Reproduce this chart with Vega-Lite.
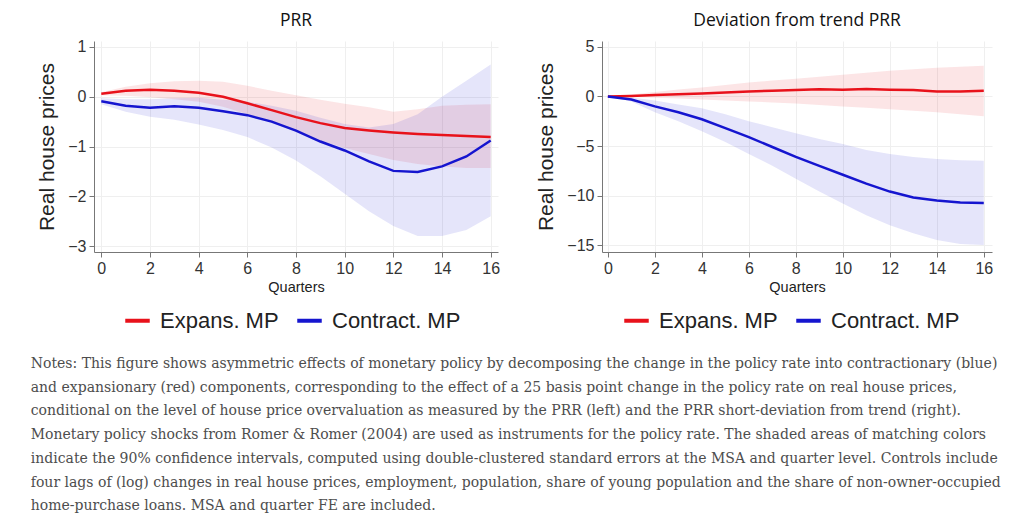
{
  "$schema": "https://vega.github.io/schema/vega-lite/v6.json",
  "description": "Asymmetric effects of monetary policy on real house prices, by PRR level and PRR deviation from trend",
  "background": "#ffffff",
  "padding": {"left": 30, "top": 12, "right": 4, "bottom": 4},
  "datasets": {
    "irf": [
      {"panel": "PRR", "q": 0, "series": "Expans. MP", "est": 0.06, "lo": 0.03, "hi": 0.09},
      {"panel": "PRR", "q": 1, "series": "Expans. MP", "est": 0.12, "lo": 0.02, "hi": 0.2},
      {"panel": "PRR", "q": 2, "series": "Expans. MP", "est": 0.14, "lo": -0.01, "hi": 0.27},
      {"panel": "PRR", "q": 3, "series": "Expans. MP", "est": 0.12, "lo": -0.05, "hi": 0.31},
      {"panel": "PRR", "q": 4, "series": "Expans. MP", "est": 0.08, "lo": -0.1, "hi": 0.32},
      {"panel": "PRR", "q": 5, "series": "Expans. MP", "est": 0.0, "lo": -0.2, "hi": 0.3},
      {"panel": "PRR", "q": 6, "series": "Expans. MP", "est": -0.13, "lo": -0.35, "hi": 0.22},
      {"panel": "PRR", "q": 7, "series": "Expans. MP", "est": -0.27, "lo": -0.52, "hi": 0.12},
      {"panel": "PRR", "q": 8, "series": "Expans. MP", "est": -0.41, "lo": -0.7, "hi": 0.03},
      {"panel": "PRR", "q": 9, "series": "Expans. MP", "est": -0.53, "lo": -0.88, "hi": -0.06},
      {"panel": "PRR", "q": 10, "series": "Expans. MP", "est": -0.63, "lo": -1.03, "hi": -0.14},
      {"panel": "PRR", "q": 11, "series": "Expans. MP", "est": -0.68, "lo": -1.15, "hi": -0.21},
      {"panel": "PRR", "q": 12, "series": "Expans. MP", "est": -0.72, "lo": -1.27, "hi": -0.3},
      {"panel": "PRR", "q": 13, "series": "Expans. MP", "est": -0.75, "lo": -1.35, "hi": -0.25},
      {"panel": "PRR", "q": 14, "series": "Expans. MP", "est": -0.77, "lo": -1.4, "hi": -0.18},
      {"panel": "PRR", "q": 15, "series": "Expans. MP", "est": -0.79, "lo": -1.43, "hi": -0.16},
      {"panel": "PRR", "q": 16, "series": "Expans. MP", "est": -0.81, "lo": -1.43, "hi": -0.15},
      {"panel": "PRR", "q": 0, "series": "Contract. MP", "est": -0.09, "lo": -0.15, "hi": -0.03},
      {"panel": "PRR", "q": 1, "series": "Contract. MP", "est": -0.18, "lo": -0.3, "hi": -0.05},
      {"panel": "PRR", "q": 2, "series": "Contract. MP", "est": -0.22, "lo": -0.4, "hi": -0.05},
      {"panel": "PRR", "q": 3, "series": "Contract. MP", "est": -0.19, "lo": -0.46, "hi": -0.03},
      {"panel": "PRR", "q": 4, "series": "Contract. MP", "est": -0.22, "lo": -0.56, "hi": -0.02},
      {"panel": "PRR", "q": 5, "series": "Contract. MP", "est": -0.29, "lo": -0.67, "hi": -0.06},
      {"panel": "PRR", "q": 6, "series": "Contract. MP", "est": -0.37, "lo": -0.81, "hi": -0.1},
      {"panel": "PRR", "q": 7, "series": "Contract. MP", "est": -0.5, "lo": -1.02, "hi": -0.18},
      {"panel": "PRR", "q": 8, "series": "Contract. MP", "est": -0.68, "lo": -1.28, "hi": -0.28},
      {"panel": "PRR", "q": 9, "series": "Contract. MP", "est": -0.9, "lo": -1.6, "hi": -0.42},
      {"panel": "PRR", "q": 10, "series": "Contract. MP", "est": -1.08, "lo": -1.95, "hi": -0.55},
      {"panel": "PRR", "q": 11, "series": "Contract. MP", "est": -1.3, "lo": -2.3, "hi": -0.62},
      {"panel": "PRR", "q": 12, "series": "Contract. MP", "est": -1.49, "lo": -2.6, "hi": -0.55},
      {"panel": "PRR", "q": 13, "series": "Contract. MP", "est": -1.51, "lo": -2.8, "hi": -0.35},
      {"panel": "PRR", "q": 14, "series": "Contract. MP", "est": -1.4, "lo": -2.8, "hi": 0.0},
      {"panel": "PRR", "q": 15, "series": "Contract. MP", "est": -1.2, "lo": -2.68, "hi": 0.32},
      {"panel": "PRR", "q": 16, "series": "Contract. MP", "est": -0.88, "lo": -2.4, "hi": 0.65},
      {"panel": "Dev", "q": 0, "series": "Expans. MP", "est": 0.0, "lo": 0.0, "hi": 0.0},
      {"panel": "Dev", "q": 1, "series": "Expans. MP", "est": 0.05, "lo": -0.05, "hi": 0.2},
      {"panel": "Dev", "q": 2, "series": "Expans. MP", "est": 0.15, "lo": -0.12, "hi": 0.45},
      {"panel": "Dev", "q": 3, "series": "Expans. MP", "est": 0.22, "lo": -0.2, "hi": 0.7},
      {"panel": "Dev", "q": 4, "series": "Expans. MP", "est": 0.3, "lo": -0.3, "hi": 0.9},
      {"panel": "Dev", "q": 5, "series": "Expans. MP", "est": 0.4, "lo": -0.4, "hi": 1.15},
      {"panel": "Dev", "q": 6, "series": "Expans. MP", "est": 0.5, "lo": -0.5, "hi": 1.4},
      {"panel": "Dev", "q": 7, "series": "Expans. MP", "est": 0.58, "lo": -0.6, "hi": 1.6},
      {"panel": "Dev", "q": 8, "series": "Expans. MP", "est": 0.65, "lo": -0.72, "hi": 1.8},
      {"panel": "Dev", "q": 9, "series": "Expans. MP", "est": 0.72, "lo": -0.85, "hi": 2.0},
      {"panel": "Dev", "q": 10, "series": "Expans. MP", "est": 0.68, "lo": -1.0, "hi": 2.2},
      {"panel": "Dev", "q": 11, "series": "Expans. MP", "est": 0.75, "lo": -1.15, "hi": 2.4},
      {"panel": "Dev", "q": 12, "series": "Expans. MP", "est": 0.68, "lo": -1.3, "hi": 2.6},
      {"panel": "Dev", "q": 13, "series": "Expans. MP", "est": 0.65, "lo": -1.45, "hi": 2.75},
      {"panel": "Dev", "q": 14, "series": "Expans. MP", "est": 0.5, "lo": -1.6, "hi": 2.9},
      {"panel": "Dev", "q": 15, "series": "Expans. MP", "est": 0.5, "lo": -1.8, "hi": 3.0},
      {"panel": "Dev", "q": 16, "series": "Expans. MP", "est": 0.58, "lo": -2.0, "hi": 3.1},
      {"panel": "Dev", "q": 0, "series": "Contract. MP", "est": 0.0, "lo": 0.0, "hi": 0.0},
      {"panel": "Dev", "q": 1, "series": "Contract. MP", "est": -0.3, "lo": -0.5, "hi": -0.1},
      {"panel": "Dev", "q": 2, "series": "Contract. MP", "est": -1.0, "lo": -1.6, "hi": -0.4},
      {"panel": "Dev", "q": 3, "series": "Contract. MP", "est": -1.6, "lo": -2.5, "hi": -0.8},
      {"panel": "Dev", "q": 4, "series": "Contract. MP", "est": -2.3, "lo": -3.5, "hi": -1.2},
      {"panel": "Dev", "q": 5, "series": "Contract. MP", "est": -3.2, "lo": -4.6, "hi": -1.8},
      {"panel": "Dev", "q": 6, "series": "Contract. MP", "est": -4.1, "lo": -5.8, "hi": -2.5},
      {"panel": "Dev", "q": 7, "series": "Contract. MP", "est": -5.1, "lo": -7.0, "hi": -3.1},
      {"panel": "Dev", "q": 8, "series": "Contract. MP", "est": -6.1, "lo": -8.3, "hi": -3.7},
      {"panel": "Dev", "q": 9, "series": "Contract. MP", "est": -7.0, "lo": -9.6, "hi": -4.3},
      {"panel": "Dev", "q": 10, "series": "Contract. MP", "est": -7.9, "lo": -10.8, "hi": -4.8},
      {"panel": "Dev", "q": 11, "series": "Contract. MP", "est": -8.8, "lo": -12.0, "hi": -5.4},
      {"panel": "Dev", "q": 12, "series": "Contract. MP", "est": -9.6, "lo": -13.0, "hi": -5.8},
      {"panel": "Dev", "q": 13, "series": "Contract. MP", "est": -10.2, "lo": -13.8, "hi": -6.1},
      {"panel": "Dev", "q": 14, "series": "Contract. MP", "est": -10.5, "lo": -14.5, "hi": -6.3},
      {"panel": "Dev", "q": 15, "series": "Contract. MP", "est": -10.7, "lo": -14.9, "hi": -6.45},
      {"panel": "Dev", "q": 16, "series": "Contract. MP", "est": -10.75, "lo": -15.0, "hi": -6.5}
    ]
  },
  "title": {
    "text": [
      "Notes: This figure shows asymmetric effects of monetary policy by decomposing the change in the policy rate into contractionary (blue)",
      "and expansionary (red) components, corresponding to the effect of a 25 basis point change in the policy rate on real house prices,",
      "conditional on the level of house price overvaluation as measured by the PRR (left) and the PRR short-deviation from trend (right).",
      "Monetary policy shocks from Romer & Romer (2004) are used as instruments for the policy rate. The shaded areas of matching colors",
      "indicate the 90% confidence intervals, computed using double-clustered standard errors at the MSA and quarter level. Controls include",
      "four lags of (log) changes in real house prices, employment, population, share of young population and the share of non-owner-occupied",
      "home-purchase loans. MSA and quarter FE are included."
    ],
    "orient": "bottom",
    "anchor": "start",
    "frame": "bounds",
    "offset": 25,
    "font": "DejaVu Serif",
    "fontSize": 14,
    "fontWeight": "normal",
    "lineHeight": 23.7,
    "color": "#4d4d4d",
    "dx": -6
  },
  "hconcat": [
    {
      "title": {"text": "PRR"},
      "width": 404,
      "height": 211,
      "data": {"name": "irf"},
      "transform": [{"filter": "datum.panel === 'PRR'"}],
      "encoding": {
        "x": {
          "field": "q",
          "type": "quantitative",
          "scale": {"domain": [-0.3, 16.3], "nice": false, "zero": false},
          "axis": {"values": [0, 2, 4, 6, 8, 10, 12, 14, 16], "title": "Quarters"}
        },
        "color": {
          "field": "series",
          "type": "nominal",
          "scale": {"domain": ["Expans. MP", "Contract. MP"], "range": ["#e8121b", "#1515cf"]},
          "legend": {"orient": "none", "direction": "horizontal", "title": null, "legendX": 29, "legendY": 265}
        }
      },
      "layer": [
        {
          "mark": {"type": "area", "opacity": 0.11},
          "encoding": {
            "y": {
              "field": "lo",
              "type": "quantitative",
              "scale": {"domain": [-3.12, 1.12], "nice": false, "zero": false},
              "axis": {"values": [-3, -2, -1, 0, 1], "format": "d", "title": "Real house prices"}
            },
            "y2": {"field": "hi"}
          }
        },
        {
          "data": {"values": [{}]},
          "mark": {"type": "rule", "color": "#8c8c8c", "strokeWidth": 2},
          "encoding": {
            "x": {"datum": 0, "type": "quantitative"},
            "x2": {"datum": 16},
            "y": {"datum": 0, "type": "quantitative"},
            "color": null
          }
        },
        {
          "mark": {"type": "line", "strokeWidth": 2.5},
          "encoding": {
            "y": {"field": "est", "type": "quantitative", "title": "Real house prices"}
          }
        }
      ]
    },
    {
      "title": {"text": "Deviation from trend PRR"},
      "width": 390,
      "height": 211,
      "data": {"name": "irf"},
      "transform": [{"filter": "datum.panel === 'Dev'"}],
      "encoding": {
        "x": {
          "field": "q",
          "type": "quantitative",
          "scale": {"domain": [-0.25, 16.35], "nice": false, "zero": false},
          "axis": {"values": [0, 2, 4, 6, 8, 10, 12, 14, 16], "title": "Quarters"}
        },
        "color": {
          "field": "series",
          "type": "nominal",
          "scale": {"domain": ["Expans. MP", "Contract. MP"], "range": ["#e8121b", "#1515cf"]},
          "legend": {"orient": "none", "direction": "horizontal", "title": null, "legendX": 20, "legendY": 265}
        }
      },
      "layer": [
        {
          "mark": {"type": "area", "opacity": 0.11},
          "encoding": {
            "y": {
              "field": "lo",
              "type": "quantitative",
              "scale": {"domain": [-15.7, 5.6], "nice": false, "zero": false},
              "axis": {"values": [-15, -10, -5, 0, 5], "format": "d", "title": "Real house prices"}
            },
            "y2": {"field": "hi"}
          }
        },
        {
          "data": {"values": [{}]},
          "mark": {"type": "rule", "color": "#222222", "strokeWidth": 1},
          "encoding": {
            "x": {"datum": 0, "type": "quantitative"},
            "x2": {"datum": 16},
            "y": {"datum": 0, "type": "quantitative"},
            "color": null
          }
        },
        {
          "mark": {"type": "line", "strokeWidth": 2.5},
          "encoding": {
            "y": {"field": "est", "type": "quantitative", "title": "Real house prices"}
          }
        }
      ]
    }
  ],
  "spacing": 35,
  "resolve": {
    "scale": {"color": "independent", "x": "independent", "y": "independent"},
    "legend": {"color": "independent"}
  },
  "config": {
    "view": {"stroke": null},
    "font": "Liberation Sans",
    "title": {"font": "Open Sans", "fontSize": 17.5, "fontWeight": "normal", "color": "#111111", "offset": 9},
    "axis": {
      "domainColor": "#777777",
      "tickColor": "#777777",
      "tickSize": 5,
      "labelFontSize": 16,
      "labelColor": "#333333",
      "labelPadding": 3,
      "grid": true,
      "gridColor": "#efefef",
      "titleFontWeight": "normal",
      "titleColor": "#222222"
    },
    "axisX": {"titleFontSize": 14.5, "titlePadding": 4},
    "axisY": {"titleFontSize": 21, "titlePadding": 10},
    "legend": {
      "symbolType": "stroke",
      "symbolStrokeWidth": 4,
      "symbolSize": 600,
      "symbolOpacity": 1,
      "labelFontSize": 22,
      "labelColor": "#222222",
      "labelOffset": 8,
      "columnPadding": 10,
      "padding": 0,
      "labelLimit": 300
    }
  }
}
